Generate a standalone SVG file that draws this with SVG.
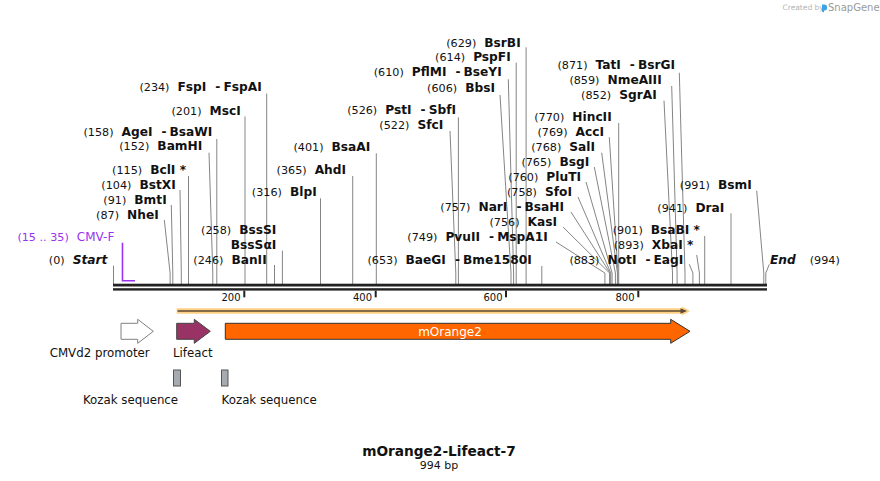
<svg xmlns="http://www.w3.org/2000/svg" width="880" height="481" viewBox="0 0 880 481">
<style>
text{font-family:"DejaVu Sans","Liberation Sans",sans-serif;fill:#111}
.n{font-size:11.2px;font-weight:normal}
.e{font-size:12.2px;font-weight:bold}
.se{font-size:12.2px;font-weight:bold;font-style:italic}
.p{fill:#9933ee}
.l{stroke:#858585;stroke-width:1;fill:none}
.tk{font-size:10px;text-anchor:end}
.fl{font-size:11.8px;text-anchor:middle}
</style>
<rect width="880" height="481" fill="#fff"/>
<g id="watermark">
<text x="782.5" y="10" style="font-size:7.5px;fill:#b4b4b4">Created by</text>
<path d="M822 4.5 h2.5 a2.5 2.5 0 0 1 2.5 2.5 v1 a2.5 2.5 0 0 1 -2.5 2.5 h-0.5 v2 l-2 -1 z" fill="#3ba3e6"/>
<text x="828" y="11" style="font-size:10px;fill:#9a9a9a">SnapGene</text>
</g>
<g id="connectors">
<path class="l" d="M266.7 93.5V284"/>
<path class="l" d="M245 116.5V284"/>
<path class="l" d="M216.8 139V284"/>
<path class="l" d="M209 152.7L212.8 273V284"/>
<path class="l" d="M188.5 176V284"/>
<path class="l" d="M180 190L181.3 273V284"/>
<path class="l" d="M171.3 205L172.8 273V284"/>
<path class="l" d="M164.3 220L170.1 273V284"/>
<path class="l" d="M113.5 265.7V284"/>
<path class="l" d="M282.4 250.7V284"/>
<path class="l" d="M274.5 265V284"/>
<path class="l" d="M320.5 198.3V284"/>
<path class="l" d="M352.7 176V284"/>
<path class="l" d="M376.3 153.3V284"/>
<path class="l" d="M458.4 117.3V284"/>
<path class="l" d="M450 131L455.8 273V284"/>
<path class="l" d="M500 95L511 273V284"/>
<path class="l" d="M508.3 79.3L513.6 273V284"/>
<path class="l" d="M516.2 62.7V284"/>
<path class="l" d="M526.1 47.3V284"/>
<path class="l" d="M541.8 266V284"/>
<path class="l" d="M556 242L604.9 273V284"/>
<path class="l" d="M563 227L609.5 273V284"/>
<path class="l" d="M571 212L610.1 273V284"/>
<path class="l" d="M578 197L610.8 273V284"/>
<path class="l" d="M586 182L612.1 273V284"/>
<path class="l" d="M594.3 167L615.4 273V284"/>
<path class="l" d="M601.7 152.7L617.4 273V284"/>
<path class="l" d="M609.3 137.3L618 273V284"/>
<path class="l" d="M618.7 123V284"/>
<path class="l" d="M679.3 72.7L685 273V284"/>
<path class="l" d="M671.7 86L677.1 273V284"/>
<path class="l" d="M664 100.7L672.5 273V284"/>
<path class="l" d="M756.7 190.7L763.8 273V284"/>
<path class="l" d="M731 213.3V284"/>
<path class="l" d="M704.7 236V284"/>
<path class="l" d="M696.7 255L699.4 273V284"/>
<path class="l" d="M689.3 264.3L692.9 273V284"/>
<path class="l" d="M769.3 264.3L765.8 273V284"/>
<path d="M122.5 242.7V280.7H135" fill="none" stroke="#9933ee" stroke-width="1.6"/>
</g>
<g id="backbone">
<rect x="113" y="283.7" width="654" height="2.8" fill="#222"/>
<rect x="113" y="288.2" width="654" height="2.4" fill="#222"/>
<rect x="243.3" y="290.6" width="2" height="6.7" fill="#222"/>
<rect x="374.7" y="290.6" width="2" height="6.7" fill="#222"/>
<rect x="505" y="290.6" width="2" height="6.7" fill="#222"/>
<rect x="637.3" y="290.6" width="2" height="6.7" fill="#222"/>
<text class="tk" x="240.5" y="300.5">200</text>
<text class="tk" x="372" y="300.5">400</text>
<text class="tk" x="502.5" y="300.5">600</text>
<text class="tk" x="634.5" y="300.5">800</text>
</g>
<g id="site-start"><text x="107.3" y="264" text-anchor="end"><tspan class="n">(0)</tspan><tspan class="se" dx="8">Start</tspan></text></g>
<g id="primer-cmvf"><text x="114.3" y="240.7" text-anchor="end" class="p"><tspan class="n p">(15 .. 35)</tspan><tspan class="p" style="font-size:12px" dx="8">CMV-F</tspan></text></g>
<g id="site-nhei"><text x="158.7" y="219" text-anchor="end"><tspan class="n">(87)</tspan><tspan class="e" dx="8">NheI</tspan></text></g>
<g id="site-bmti"><text x="166.7" y="204" text-anchor="end"><tspan class="n">(91)</tspan><tspan class="e" dx="8">BmtI</tspan></text></g>
<g id="site-bstxi"><text x="175.7" y="189" text-anchor="end"><tspan class="n">(104)</tspan><tspan class="e" dx="8">BstXI</tspan></text></g>
<g id="site-bcli"><text x="186" y="174" text-anchor="end"><tspan class="n">(115)</tspan><tspan class="e" dx="8">BclI *</tspan></text></g>
<g id="site-bamhi"><text x="202.3" y="150" text-anchor="end"><tspan class="n">(152)</tspan><tspan class="e" dx="8">BamHI</tspan></text></g>
<g id="site-agei"><text x="212.3" y="136" text-anchor="end"><tspan class="n">(158)</tspan><tspan class="e" dx="8">AgeI</tspan><tspan class="e" dx="9">-</tspan><tspan class="e" dx="3">BsaWI</tspan></text></g>
<g id="site-msci"><text x="240.7" y="114.5" text-anchor="end"><tspan class="n">(201)</tspan><tspan class="e" dx="8">MscI</tspan></text></g>
<g id="site-fspi"><text x="261.7" y="91" text-anchor="end"><tspan class="n">(234)</tspan><tspan class="e" dx="8">FspI</tspan><tspan class="e" dx="9">-</tspan><tspan class="e" dx="3">FspAI</tspan></text></g>
<g id="site-bsssi"><text x="276.3" y="234" text-anchor="end"><tspan class="n">(258)</tspan><tspan class="e" dx="8">BssSI</tspan></text><text class="e" x="276.3" y="248.5" text-anchor="end">BssSαI</text></g>
<g id="site-banii"><text x="266.7" y="264" text-anchor="end"><tspan class="n">(246)</tspan><tspan class="e" dx="8">BanII</tspan></text></g>
<g id="site-blpi"><text x="316.7" y="196" text-anchor="end"><tspan class="n">(316)</tspan><tspan class="e" dx="8">BlpI</tspan></text></g>
<g id="site-ahdi"><text x="346" y="174" text-anchor="end"><tspan class="n">(365)</tspan><tspan class="e" dx="8">AhdI</tspan></text></g>
<g id="site-bsaai"><text x="370.3" y="150.5" text-anchor="end"><tspan class="n">(401)</tspan><tspan class="e" dx="8">BsaAI</tspan></text></g>
<g id="site-psti"><text x="456" y="114" text-anchor="end"><tspan class="n">(526)</tspan><tspan class="e" dx="8">PstI</tspan><tspan class="e" dx="9">-</tspan><tspan class="e" dx="3">SbfI</tspan></text></g>
<g id="site-sfci"><text x="443.3" y="129" text-anchor="end"><tspan class="n">(522)</tspan><tspan class="e" dx="8">SfcI</tspan></text></g>
<g id="site-bbsi"><text x="495" y="91.5" text-anchor="end"><tspan class="n">(606)</tspan><tspan class="e" dx="8">BbsI</tspan></text></g>
<g id="site-pflmi"><text x="501.7" y="76" text-anchor="end"><tspan class="n">(610)</tspan><tspan class="e" dx="8">PflMI</tspan><tspan class="e" dx="9">-</tspan><tspan class="e" dx="3">BseYI</tspan></text></g>
<g id="site-pspfi"><text x="510.7" y="61" text-anchor="end"><tspan class="n">(614)</tspan><tspan class="e" dx="8">PspFI</tspan></text></g>
<g id="site-bsrbi"><text x="520.7" y="46.5" text-anchor="end"><tspan class="n">(629)</tspan><tspan class="e" dx="8">BsrBI</tspan></text></g>
<g id="site-baegi"><text x="531.7" y="263.5" text-anchor="end"><tspan class="n">(653)</tspan><tspan class="e" dx="8">BaeGI</tspan><tspan class="e" dx="9">-</tspan><tspan class="e" dx="3">Bme1580I</tspan></text></g>
<g id="site-pvuii"><text x="547.7" y="240.5" text-anchor="end"><tspan class="n">(749)</tspan><tspan class="e" dx="8">PvuII</tspan><tspan class="e" dx="9">-</tspan><tspan class="e" dx="3">MspA1I</tspan></text></g>
<g id="site-kasi"><text x="557" y="225.5" text-anchor="end"><tspan class="n">(756)</tspan><tspan class="e" dx="8">KasI</tspan></text></g>
<g id="site-nari"><text x="564" y="210.5" text-anchor="end"><tspan class="n">(757)</tspan><tspan class="e" dx="8">NarI</tspan><tspan class="e" dx="9">-</tspan><tspan class="e" dx="3">BsaHI</tspan></text></g>
<g id="site-sfoi"><text x="572" y="195.5" text-anchor="end"><tspan class="n">(758)</tspan><tspan class="e" dx="8">SfoI</tspan></text></g>
<g id="site-pluti"><text x="581" y="181" text-anchor="end"><tspan class="n">(760)</tspan><tspan class="e" dx="8">PluTI</tspan></text></g>
<g id="site-bsgi"><text x="589.3" y="166" text-anchor="end"><tspan class="n">(765)</tspan><tspan class="e" dx="8">BsgI</tspan></text></g>
<g id="site-sali"><text x="595" y="151" text-anchor="end"><tspan class="n">(768)</tspan><tspan class="e" dx="8">SalI</tspan></text></g>
<g id="site-acci"><text x="604" y="136" text-anchor="end"><tspan class="n">(769)</tspan><tspan class="e" dx="8">AccI</tspan></text></g>
<g id="site-hincii"><text x="611.7" y="121" text-anchor="end"><tspan class="n">(770)</tspan><tspan class="e" dx="8">HincII</tspan></text></g>
<g id="site-tati"><text x="675" y="69" text-anchor="end"><tspan class="n">(871)</tspan><tspan class="e" dx="8">TatI</tspan><tspan class="e" dx="9">-</tspan><tspan class="e" dx="3">BsrGI</tspan></text></g>
<g id="site-nmeaiii"><text x="661.7" y="84" text-anchor="end"><tspan class="n">(859)</tspan><tspan class="e" dx="8">NmeAIII</tspan></text></g>
<g id="site-sgrai"><text x="656.7" y="99" text-anchor="end"><tspan class="n">(852)</tspan><tspan class="e" dx="8">SgrAI</tspan></text></g>
<g id="site-bsmi"><text x="751.7" y="189" text-anchor="end"><tspan class="n">(991)</tspan><tspan class="e" dx="8">BsmI</tspan></text></g>
<g id="site-drai"><text x="724.3" y="211.5" text-anchor="end"><tspan class="n">(941)</tspan><tspan class="e" dx="8">DraI</tspan></text></g>
<g id="site-bsabi"><text x="700" y="234" text-anchor="end"><tspan class="n">(901)</tspan><tspan class="e" dx="8">BsaBI *</tspan></text></g>
<g id="site-xbai"><text x="693.3" y="249" text-anchor="end"><tspan class="n">(893)</tspan><tspan class="e" dx="8">XbaI *</tspan></text></g>
<g id="site-noti"><text x="683.3" y="264" text-anchor="end"><tspan class="n">(883)</tspan><tspan class="e" dx="8">NotI</tspan><tspan class="e" dx="9">-</tspan><tspan class="e" dx="3">EagI</tspan></text></g>
<g id="site-end"><text x="770" y="264"><tspan class="se">End</tspan><tspan class="n" dx="14">(994)</tspan></text></g>
<g id="orf">
<polygon points="176.7,308.3 682,308.3 682,306.5 690,311 682,315.5 682,313.7 176.7,313.7" fill="#ffd083"/>
<path d="M177.5 311H682" stroke="#5a4a35" stroke-width="1.6"/>
<polygon points="680.5,308.3 687,311 680.5,313.7" fill="#5a4a35"/>
</g>
<g id="feature-cmvd2">
<polygon points="121,323.3 137.7,323.3 137.7,319.3 153.3,331.3 137.7,343.3 137.7,339.3 121,339.3" fill="#fff" stroke="#808080" stroke-width="1"/>
<text class="fl" x="99.7" y="357">CMVd2 promoter</text>
</g>
<g id="feature-lifeact">
<polygon points="176.7,323.3 194.3,323.3 194.3,319.3 210.3,331.3 194.3,343.3 194.3,339.3 176.7,339.3" fill="#993366" stroke="#444" stroke-width="1"/>
<text class="fl" x="192.8" y="357">Lifeact</text>
</g>
<g id="feature-morange2">
<polygon points="225.3,323.3 670.7,323.3 670.7,319.3 690,331.3 670.7,343.3 670.7,339.3 225.3,339.3" fill="#ff6600" stroke="#333" stroke-width="1"/>
<text x="450" y="335.5" text-anchor="middle" style="font-size:12px;fill:#fff">mOrange2</text>
</g>
<g id="feature-kozak1">
<rect x="173.5" y="370" width="7" height="16" fill="#a6aab1" stroke="#555" stroke-width="1"/>
<text class="fl" x="130.5" y="403.5">Kozak sequence</text>
</g>
<g id="feature-kozak2">
<rect x="221.5" y="370" width="6.5" height="16" fill="#a6aab1" stroke="#555" stroke-width="1"/>
<text class="fl" x="269.2" y="403.5">Kozak sequence</text>
</g>
<g id="title">
<text x="439" y="455.5" text-anchor="middle" style="font-size:13.7px;font-weight:bold">mOrange2-Lifeact-7</text>
<text x="439" y="468.5" text-anchor="middle" style="font-size:11px">994 bp</text>
</g>
</svg>
